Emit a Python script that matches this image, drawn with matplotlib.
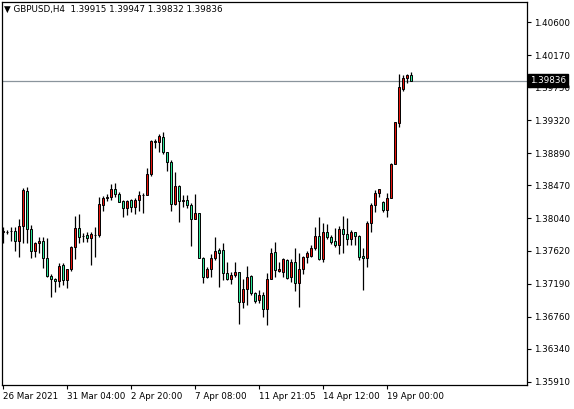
import numpy as np
import matplotlib.pyplot as plt

# GBPUSD H4 candles
opens = [1.37869, 1.37865, 1.37873, 1.37878, 1.37752, 1.37943, 1.38399, 1.37899, 1.37622, 1.37717,
         1.37743, 1.37522, 1.37296, 1.37248, 1.37222, 1.37431, 1.37240, 1.37379, 1.37665, 1.37913,
         1.37813, 1.37826, 1.37782, 1.37821, 1.37821, 1.38216, 1.38303, 1.38316, 1.38420, 1.38355,
         1.38268, 1.38173, 1.38277, 1.38186, 1.38281, 1.38347, 1.38351, 1.38616, 1.39041, 1.39041,
         1.39106, 1.38902, 1.38772, 1.38225, 1.38464, 1.38273, 1.38281, 1.38216, 1.38030, 1.38108,
         1.37522, 1.37282, 1.37378, 1.37521, 1.37630, 1.37630, 1.37336, 1.37256, 1.37300, 1.37343,
         1.36950, 1.37120, 1.37291, 1.37074, 1.36979, 1.37044, 1.36857, 1.37252, 1.37604, 1.37361,
         1.37343, 1.37499, 1.37274, 1.37473, 1.37196, 1.37378, 1.37534, 1.37556, 1.37651, 1.37812,
         1.37508, 1.37864, 1.37803, 1.37742, 1.37690, 1.37903, 1.37834, 1.37768, 1.37860, 1.37812,
         1.37551, 1.37521, 1.37977, 1.38216, 1.38367, 1.38250, 1.38146, 1.38304, 1.38751, 1.39280,
         1.39723, 1.39866, 1.39915]
highs = [1.37934, 1.37891, 1.37934, 1.37934, 1.38038, 1.38433, 1.38455, 1.37956, 1.37739, 1.37795,
         1.37804, 1.37782, 1.37318, 1.37262, 1.37465, 1.37457, 1.37387, 1.37683, 1.38073, 1.38099,
         1.37847, 1.37869, 1.37869, 1.37934, 1.38325, 1.38333, 1.38360, 1.38490, 1.38498, 1.38390,
         1.38281, 1.38281, 1.38290, 1.38303, 1.38403, 1.38377, 1.38694, 1.39063, 1.39071, 1.39136,
         1.39162, 1.38911, 1.38802, 1.38650, 1.38477, 1.38347, 1.38347, 1.38238, 1.38360, 1.38117,
         1.37535, 1.37404, 1.37578, 1.37803, 1.37651, 1.37716, 1.37473, 1.37343, 1.37473, 1.37343,
         1.37256, 1.37421, 1.37304, 1.37087, 1.37109, 1.37087, 1.37334, 1.37651, 1.37738, 1.37478,
         1.37530, 1.37508, 1.37508, 1.37651, 1.37586, 1.37551, 1.37621, 1.37695, 1.37933, 1.38055,
         1.37977, 1.37968, 1.37825, 1.37912, 1.37946, 1.38072, 1.38042, 1.37890, 1.37868, 1.37825,
         1.37651, 1.38012, 1.38237, 1.38411, 1.38424, 1.38272, 1.38367, 1.38760, 1.39302, 1.39918,
         1.39910, 1.39923, 1.39947]
lows = [1.37726, 1.37839, 1.37752, 1.37622, 1.37535, 1.37717, 1.37717, 1.37522, 1.37535, 1.37596,
        1.37392, 1.37283, 1.37023, 1.37088, 1.37153, 1.37175, 1.37131, 1.37361, 1.37509, 1.37726,
        1.37739, 1.37739, 1.37435, 1.37544, 1.37804, 1.38143, 1.38268, 1.38281, 1.38316, 1.38251,
        1.38064, 1.38086, 1.38125, 1.38099, 1.38143, 1.38108, 1.38342, 1.38594, 1.38954, 1.38911,
        1.38876, 1.38663, 1.38143, 1.38216, 1.37991, 1.38195, 1.38173, 1.37687, 1.38030, 1.37522,
        1.37205, 1.37261, 1.37282, 1.37499, 1.37152, 1.37239, 1.37239, 1.37187, 1.37282, 1.36662,
        1.36870, 1.36914, 1.37044, 1.36944, 1.36944, 1.36753, 1.36649, 1.37248, 1.37274, 1.37343,
        1.37282, 1.37256, 1.37217, 1.37100, 1.36892, 1.37317, 1.37465, 1.37534, 1.37630, 1.37499,
        1.37473, 1.37777, 1.37703, 1.37673, 1.37578, 1.37586, 1.37695, 1.37695, 1.37699, 1.37499,
        1.37109, 1.37404, 1.37868, 1.38129, 1.38315, 1.38129, 1.38064, 1.38651, 1.39224, 1.39237,
        1.39706, 1.39810, 1.39832]
closes = [1.37869, 1.37865, 1.37873, 1.37752, 1.37943, 1.38412, 1.37899, 1.37622, 1.37717, 1.37743,
          1.37522, 1.37296, 1.37248, 1.37222, 1.37422, 1.37240, 1.37379, 1.37665, 1.37913, 1.37804,
          1.37813, 1.37782, 1.37839, 1.37821, 1.38225, 1.38303, 1.38316, 1.38420, 1.38355, 1.38260,
          1.38173, 1.38268, 1.38186, 1.38281, 1.38347, 1.38351, 1.38620, 1.39050, 1.39045, 1.39115,
          1.38902, 1.38776, 1.38225, 1.38464, 1.38273, 1.38273, 1.38216, 1.38030, 1.38108, 1.37522,
          1.37283, 1.37378, 1.37521, 1.37617, 1.37595, 1.37336, 1.37256, 1.37300, 1.37343, 1.36950,
          1.37120, 1.37278, 1.37065, 1.36961, 1.37044, 1.36857, 1.37252, 1.37595, 1.37369, 1.37378,
          1.37512, 1.37269, 1.37473, 1.37196, 1.37378, 1.37534, 1.37591, 1.37651, 1.37812, 1.37508,
          1.37860, 1.37803, 1.37738, 1.37690, 1.37903, 1.37834, 1.37768, 1.37860, 1.37812, 1.37543,
          1.37521, 1.37977, 1.38216, 1.38367, 1.38419, 1.38146, 1.38302, 1.38751, 1.39293, 1.39749,
          1.39866, 1.39910, 1.39836]

yticks = [1.40600, 1.40170, 1.39750, 1.39320, 1.38890, 1.38470, 1.38040, 1.37620,
          1.37190, 1.36760, 1.36340, 1.35910]
xtick_pos = [0, 16, 32, 48, 64, 80, 96]
xtick_labels = ["26 Mar 2021", "31 Mar 04:00", "2 Apr 20:00", "7 Apr 08:00",
                "11 Apr 21:05", "14 Apr 12:00", "19 Apr 00:00"]
last_price = 1.39836

fs = 6.3
fig = plt.figure(figsize=(5.74, 4.09), dpi=100)
ax = fig.add_axes([2 / 574, 24 / 409, 525 / 574, 383 / 409])

x = np.arange(len(closes))
o = np.array(opens); c = np.array(closes)
up = c >= o
ax.vlines(x, lows, highs, color="black", lw=0.9, zorder=1)
bottom = np.minimum(o, c)
height = np.maximum(np.abs(c - o), 0.000015)
ax.bar(x, height, bottom=bottom, width=0.55,
       color=np.where(up, "#e8140c", "#2ee89a"), edgecolor="black", lw=0.7, zorder=2)

ax.axhline(last_price, color="#8a949c", lw=0.9, zorder=0)

ax.set_xlim(-0.3, 130.9)
ax.set_ylim(1.35870, 1.40861)
ax.yaxis.tick_right()
ax.set_yticks(yticks)
ax.set_yticklabels([f"{v:.5f}" for v in yticks], fontsize=fs)
ax.set_xticks(xtick_pos)
ax.set_xticklabels(xtick_labels, fontsize=fs, ha="left")
ax.tick_params(length=3, width=0.8, pad=2)
for s in ax.spines.values():
    s.set_linewidth(0.9)

ax.text(1.006, (last_price - 1.35870) / (1.40861 - 1.35870), f"{last_price:.5f}",
        transform=ax.transAxes, va="center", ha="left", fontsize=fs, color="white",
        bbox=dict(boxstyle="square,pad=0.2", fc="black", ec="black"))
ax.text(0.004, 0.992, "\u25bc GBPUSD,H4  1.39915 1.39947 1.39832 1.39836",
        transform=ax.transAxes, va="top", ha="left", fontsize=fs)

fig.savefig("out.png", dpi=100)
